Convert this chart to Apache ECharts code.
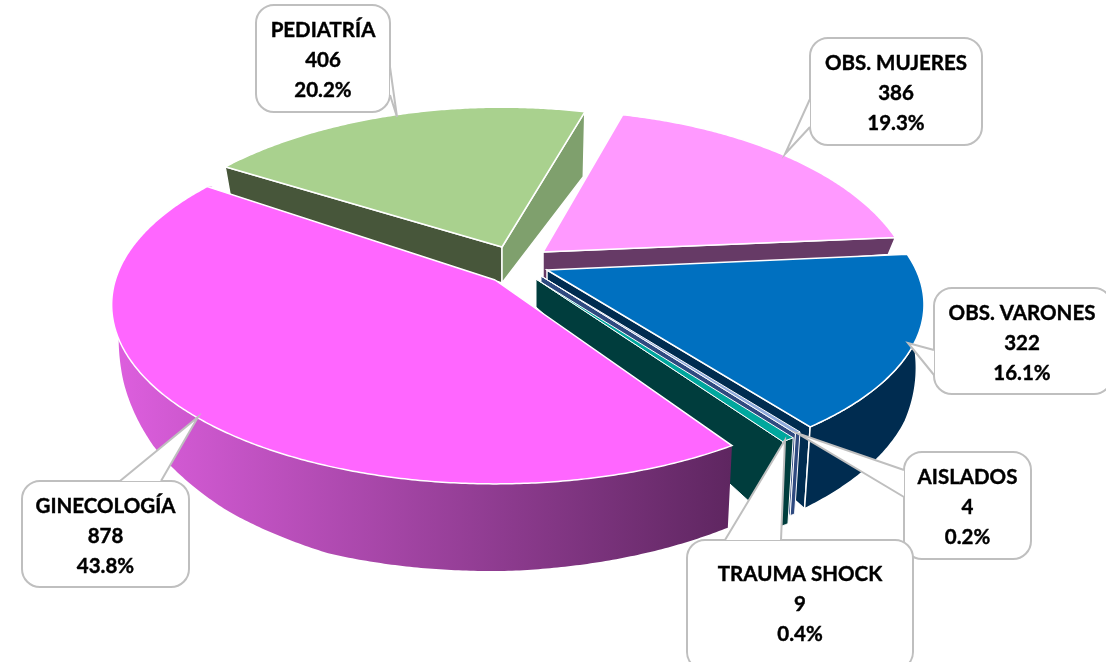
<!DOCTYPE html>
<html>
<head>
<meta charset="utf-8">
<style>html,body{margin:0;padding:0;background:#fff}#c{width:1106px;height:662px}</style>
<script src="https://cdn.jsdelivr.net/npm/echarts@6/dist/echarts.min.js"></script>
</head>
<body>
<div id="c"></div>
<script>
// ---- data (clockwise, back slices first so that front slices paint over them)
const categories = ['PEDIATRÍA', 'OBS. MUJERES', 'OBS. VARONES', 'AISLADOS', 'TRAUMA SHOCK', 'GINECOLOGÍA'];
const values = [406, 386, 322, 4, 9, 878];

// ---- look
const topColors = ['#a9d18e', '#ff99ff', '#0070c0', '#8faadc', '#00a79d', '#ff66ff'];
const wallColors = ['#47563a', '#663a66', '#002c50', '#2f4a80', '#003d3d', null];
const endWallColors = ['#7fa06d', '#663a66', '#002c50', '#2f4a80', '#003d3d', null];
const startAngle = 307;

// ---- projection of each exploded slice: apex on screen, radii, perspective, angle correction
const geometry = [
  {ax: 502, ay: 247, rx: 375, k: 186, y0: 9, p: .25, da: -4, apexDepth: 36, startWall: true, endWall: true, rim: false, depth: [[0, 28], [72, 65]]},
  {ax: 543, ay: 252, rx: 361, k: 177, y0: 0, p: .25, da: -4, apexDepth: 28, startWall: false, endWall: true, rim: false, depth: [[0, 17], [70, 17]]},
  {ax: 547, ay: 270, rx: 365, k: 160, y0: -8, p: .25, da: -2, apexDepth: 11, startWall: false, endWall: true, rim: true, depth: [[89, 45], [105, 62], [120, 75], [147.5, 82]]},
  {ax: 541, ay: 276, rx: 376, k: 161, y0: -15, p: .25, da: 0, apexDepth: 20, startWall: false, endWall: true, rim: true, depth: [[0, 82], [360, 82]]},
  {ax: 536, ay: 279, rx: 380, k: 162, y0: -15, p: .25, da: 0, apexDepth: 28, startWall: false, endWall: true, rim: true, depth: [[0, 86], [360, 86]]},
  {ax: 495, ay: 280, rx: 379, k: 175, y0: -2, p: .15, da: -2.5, apexDepth: 0, startWall: false, endWall: false, rim: true, depth: [[149, 82], [180, 87], [205, 88], [222, 80], [240, 66], [255, 48], [268, 26], [285, 0], [310, 0]]}
];
const narrow = 0.018, centerX = 500;

// ---- callouts: box, tip and the two points where the pointer leaves the box
const callouts = [
  {x: 256, y: 5, w: 134, h: 107, tip: [397, 117], a: [390, 67], b: [390, 95]},
  {x: 810, y: 38, w: 172, h: 107, tip: [785, 154], a: [810, 99], b: [810, 127]},
  {x: 934, y: 288, w: 178, h: 106, tip: [908, 343], a: [934, 350], b: [934, 375]},
  {x: 904, y: 452, w: 127, h: 107, tip: [797, 433], a: [904, 470], b: [904, 497]},
  {x: 687, y: 540, w: 226, h: 130, tip: [785, 440], a: [725, 540], b: [781, 540]},
  {x: 22, y: 481, w: 167, h: 106, tip: [198, 417], a: [120, 481], b: [161, 481]}
];
const labelFont = 'bold 20.5px Lato, "Noto Sans", sans-serif';
const lineGap = 30;

const total = values.reduce((s, v) => s + v, 0);
const spans = [];
values.reduce((a, v) => { const e = a + v / total * 360; spans.push([a, e]); return e; }, startAngle);

function rimPoint(g, deg) {
  const t = (deg + g.da) * Math.PI / 180, u = Math.sin(t), v = -Math.cos(t), s = 1 / (1 - g.p * v);
  return [g.ax + g.rx * u * s, g.ay + g.y0 + g.k * v * s];
}
function depthAt(g, deg) {
  const d = g.depth;
  let a = ((deg % 360) + 360) % 360;
  if (d[0][0] === 0 && d[d.length - 1][0] < 360) a = deg - spans[geometry.indexOf(g)][0];
  if (a <= d[0][0]) return d[0][1];
  for (let i = 1; i < d.length; i++) {
    if (a <= d[i][0]) return d[i - 1][1] + (d[i][1] - d[i - 1][1]) * (a - d[i - 1][0]) / (d[i][0] - d[i - 1][0]);
  }
  return d[d.length - 1][1];
}
function lower(g, deg) {
  const p = rimPoint(g, deg);
  return [p[0] - (p[0] - centerX) * narrow, p[1] + depthAt(g, deg)];
}
function arc(f, g, a, b) {
  const n = Math.max(2, Math.ceil(Math.abs(b - a) * 2)), out = [];
  for (let i = 0; i <= n; i++) out.push(f(g, a + (b - a) * i / n));
  return out;
}
function poly(points, fill, z2, stroke, width) {
  return {type: 'polygon', z2: z2, silent: true, shape: {points: points},
    style: {fill: fill, stroke: stroke === undefined ? '#fff' : stroke, lineWidth: width || 1.5, lineJoin: 'miter'}};
}

function renderSlice(params, api) {
  const i = params.dataIndex, g = geometry[i], a = spans[i][0], b = spans[i][1];
  const kids = [];
  const w = i === 3 || i === 4 ? 1 : 1.5;
  const cut = (deg, color) => {
    const r = rimPoint(g, deg), l = lower(g, deg);
    kids.push(poly([[g.ax, g.ay], r, l, [g.ax, g.ay + g.apexDepth]], color, i * 10 + 1, '#fff', w));
  };
  if (g.startWall) cut(a, wallColors[i]);
  if (g.endWall) cut(b, endWallColors[i]);
  if (g.rim) {
    const top = arc(rimPoint, g, a, b), bot = arc(lower, g, a, b).reverse();
    const fill = i === 5
      ? {type: 'linear', x: 1, y: 0, x2: 0, y2: 0, colorStops: [{offset: 0, color: '#5e2660'}, {offset: 1, color: '#de5fdf'}]}
      : wallColors[i];
    kids.push(poly(top.concat(bot), fill, i * 10 + 2, i === 5 ? 'rgba(255,255,255,0)' : '#fff', w));
  }
  const face = [[g.ax, g.ay]].concat(arc(rimPoint, g, a, b));
  kids.push(poly(face, topColors[i], i * 10 + 3, '#fff', w));
  return {type: 'group', children: kids};
}

function renderCallout(params, api) {
  const i = params.dataIndex, c = callouts[i], stroke = '#bfbfbf', base = 100 + i * 5;
  const pct = (api.value(0) / total * 100).toFixed(1) + '%';
  const lines = [categories[i], String(api.value(0)), pct];
  const cx = c.x + Math.min(c.w, 1106 - c.x + 6) / 2 - (i === 2 ? 1 : 0);
  const cy = (i === 4 ? 604 : c.y + c.h / 2 + 2);
  const kids = [
    {type: 'rect', z2: base, silent: true, shape: {x: c.x, y: c.y, width: c.w, height: c.h, r: 18},
      style: {fill: '#fff', stroke: stroke, lineWidth: 2}},
    {type: 'polygon', z2: base + 1, silent: true, shape: {points: [c.a, c.tip, c.b]}, style: {fill: '#fff', stroke: null}},
    {type: 'polyline', z2: base + 2, silent: true, shape: {points: [c.a, c.tip, c.b]},
      style: {fill: null, stroke: stroke, lineWidth: 2}}
  ];
  lines.forEach((t, n) => kids.push({type: 'text', z2: base + 3, silent: true,
    style: {text: t, x: cx, y: cy + (n - 1) * lineGap, font: labelFont, fill: '#000', stroke: '#000', lineWidth: 0.4, align: 'center', verticalAlign: 'middle'}}));
  return {type: 'group', children: kids};
}

const chart = echarts.init(document.getElementById('c'), null, {renderer: 'canvas'});
chart.setOption({
  backgroundColor: '#fff',
  animation: false,
  series: [
    {type: 'custom', name: 'slices', coordinateSystem: 'none', silent: true, z: 1, renderItem: renderSlice,
      data: values.map((v, i) => ({name: categories[i], value: [v]}))},
    {type: 'custom', name: 'callouts', coordinateSystem: 'none', silent: true, z: 2, renderItem: renderCallout,
      data: values.map((v, i) => ({name: categories[i], value: [v]}))}
  ]
});
</script>
</body>
</html>
